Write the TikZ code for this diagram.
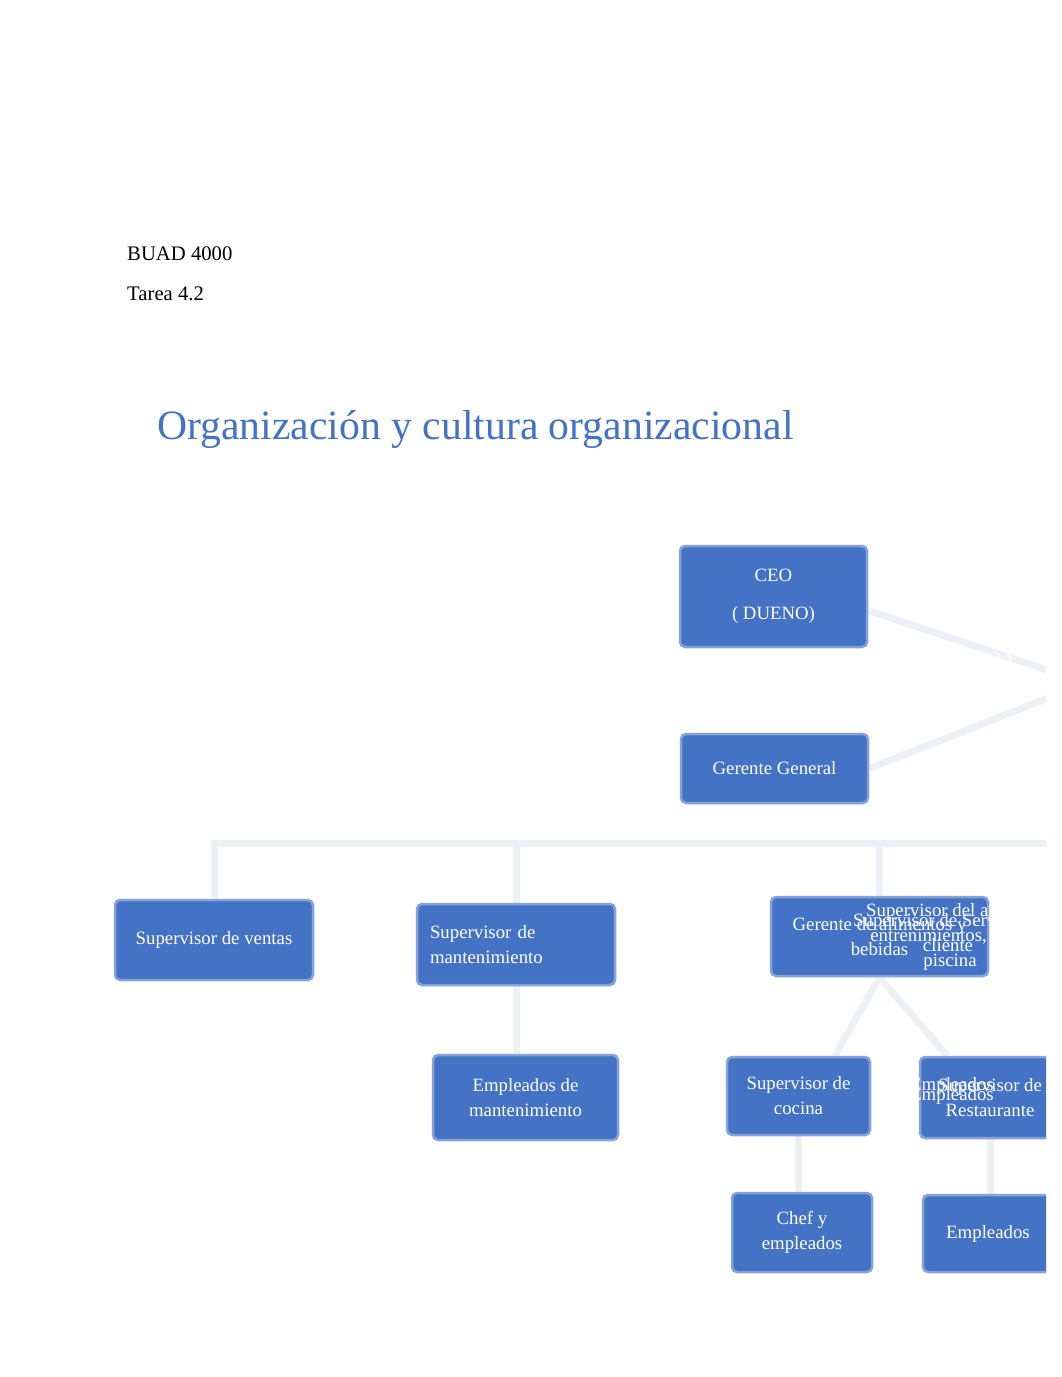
\documentclass[tikz,border=0pt]{standalone}
\usepackage{fontspec}
\setmainfont{Liberation Serif}
\usetikzlibrary{positioning, backgrounds, calc}
\definecolor{OrgBlue}{RGB}{68, 114, 196}
\definecolor{LinkGray}{RGB}{237, 240, 245}

\begin{document}
\begin{tikzpicture}[x=1pt, y=-1pt,
    box/.style={rectangle, rounded corners=5pt, fill=OrgBlue, draw=OrgBlue!65!white, line width=2.5pt, text=white, font=\fontsize{18.8}{25}\selectfont, align=center, inner sep=0pt},
    ghost/.style={text=white, font=\fontsize{18.8}{25}\selectfont, align=center, inner sep=0pt},
    link/.style={draw=LinkGray, line width=7pt}
]
\useasboundingbox (0,0) rectangle (1062,1377);

% heading
\node[anchor=base west, inner sep=0pt, font=\fontsize{20.7}{25}\selectfont] (course) at (127,260) {BUAD 4000};
\node[anchor=base west, inner sep=0pt, font=\fontsize{20.7}{25}\selectfont] (task) at (127,300) {Tarea 4.2};
\node[anchor=base west, inner sep=0pt, text=OrgBlue, font=\fontsize{41.7}{48}\selectfont] (title) at (157,439) {Organización y cultura organizacional};

% chart, cut at the right edge
\begin{scope}
\clip (0,0) rectangle (1046,1377);
\node[box, minimum width=187pt, minimum height=101pt] (ceo) at (773.5,596.5) {\rule{0pt}{6pt}CEO\\[13pt]( DUENO)};
\node[box, minimum width=187pt, minimum height=69pt] (gg) at (774.5,768.5) {Gerente General};
\node[ghost] (finanza) at (980,657) {finanza y};

\node[box, minimum width=198pt, minimum height=80pt] (ventas) at (214,940) {Supervisor de ventas};
\node[box, minimum width=198pt, minimum height=81pt, text width=172pt, align=left] (mant) at (516,944.5) {Supervisor de\\mantenimiento};
\node[box, minimum width=217pt, minimum height=79pt] (alim) at (879.5,936.5) {Gerente de alimentos y\\bebidas};
\node[ghost] (servicio) at (948,932.5) {Supervisor de Servicio al\\cliente};
\node[ghost] (ocio) at (950,937) {Supervisor del area de\\entrenimientos, gym,\\piscina};

\node[box, minimum width=185pt, minimum height=85pt] (empmant) at (525.5,1097.5) {Empleados de\\mantenimiento};
\node[box, minimum width=143pt, minimum height=78pt] (cocina) at (798.5,1096) {Supervisor de\\cocina};
\node[box, minimum width=140pt, minimum height=81pt] (rest) at (990,1097.5) {Supervisor de\\Restaurante};
\node[ghost] (empA) at (952,1086) {Empleados};
\node[ghost] (empB) at (952,1096) {Empleados};

\node[box, minimum width=140pt, minimum height=79pt] (chef) at (802,1232.5) {Chef y\\empleados};
\node[box, minimum width=130pt, minimum height=77pt] (empl) at (988,1233.5) {Empleados};

\coordinate (finedge) at (1086,683);
\coordinate (busedge) at (1070,843);
\end{scope}

% faint connectors behind the boxes
\begin{scope}[on background layer]
\fill[white] (0,0) rectangle (1062,1377);
\clip (0,0) rectangle (1046,1377);
\draw[link] ([yshift=-14pt]ceo.east) -- (finedge) -- (gg.east);
\draw[link] (busedge) -| (ventas.north);
\draw[link] (busedge) -| (mant.north);
\draw[link] (busedge) -| (alim.north);
\draw[link] (mant.south) -- (mant.south |- empmant.north);
\draw[link] (alim.south) -- ($(cocina.north)!0.5!(cocina.north east)$);
\draw[link] (alim.south) -- ($(rest.north)!0.6!(rest.north west)$);
\draw[link] (cocina.south) -- (cocina.south |- chef.north);
\draw[link] (rest.south) -- (rest.south |- empl.north);
\end{scope}
\end{tikzpicture}
\end{document}
